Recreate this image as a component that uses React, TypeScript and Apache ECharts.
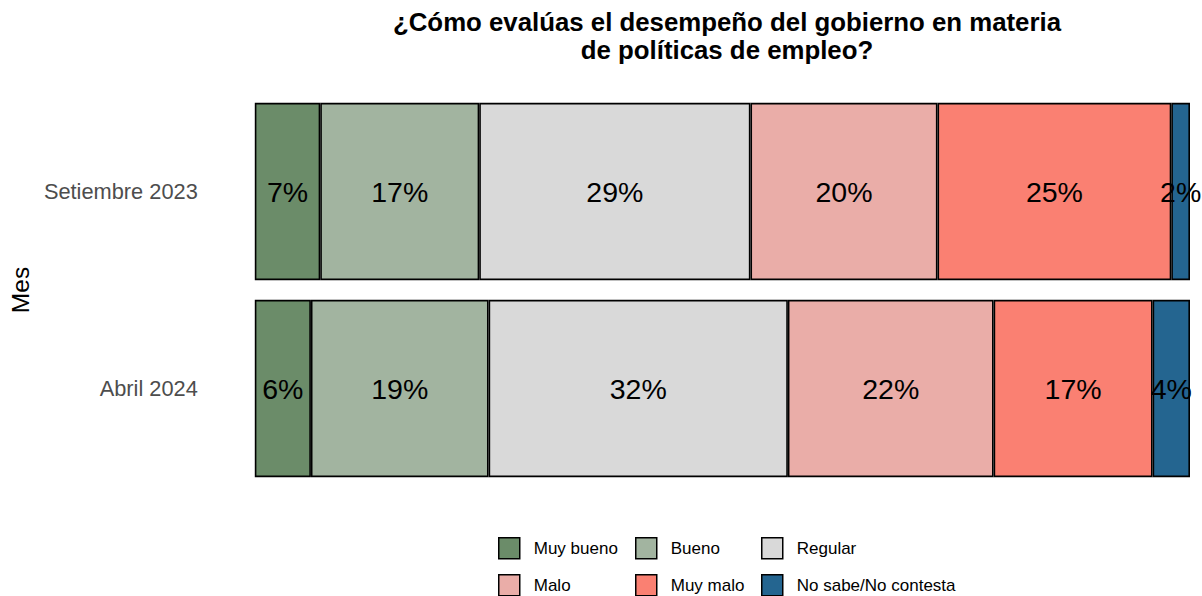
import React, { useEffect, useRef } from "react";
import * as echarts from "echarts";

const months = ["Setiembre 2023", "Abril 2024"];
const categories = ["Muy bueno", "Bueno", "Regular", "Malo", "Muy malo", "No sabe/No contesta"];
const muyBueno = [7, 6];
const bueno = [17, 19];
const regular = [29, 32];
const malo = [20, 22];
const muyMalo = [25, 17];
const noSabe = [2, 4];
const colors = ["#6B8C69", "#A2B4A0", "#D9D9D9", "#EAADA8", "#FA8072", "#246590"];

const seriesValues = [muyBueno, bueno, regular, malo, muyMalo, noSabe];

// legend placement (3 columns x 2 rows)
const legendCols = [498, 635, 761];
const legendRows = [537, 574];

export default function App() {
  const ref = useRef<HTMLDivElement>(null);
  useEffect(() => {
    document.body.style.margin = "0";
    const chart = echarts.init(ref.current!, null, { renderer: "svg" });
    const font = "Liberation Sans, Arial, sans-serif";
    const legends = categories.map((c, i) => ({
      data: [c],
      left: legendCols[i % 3],
      top: legendRows[Math.floor(i / 3)],
      padding: 0,
      itemWidth: 21,
      itemHeight: 21,
      icon: "rect",
      selectedMode: false,
      itemStyle: { borderColor: "#000", borderWidth: 1.5 },
      textStyle: { fontFamily: font, fontSize: 17, color: "#000", padding: [0, 0, 0, 9] },
    }));
    chart.setOption({
      animation: false,
      textStyle: { fontFamily: font },
      title: {
        text: "¿Cómo evalúas el desempeño del gobierno en materia\nde políticas de empleo?",
        left: 722,
        textAlign: "center",
        top: 3,
        textStyle: { fontFamily: font, fontSize: 25.8, fontWeight: "bold", color: "#000", lineHeight: 28 },
      },
      legend: legends,
      grid: { left: 253, right: 12, top: 93, height: 394 },
      xAxis: { type: "value", min: 0, max: 100, show: false },
      yAxis: {
        type: "category",
        data: months,
        inverse: true,
        axisLine: { show: false },
        axisTick: { show: false },
        axisLabel: { color: "#4D4D4D", fontSize: 21.8, margin: 57, fontFamily: font },
        name: "Mes",
        nameLocation: "middle",
        nameGap: 214,
        nameTextStyle: { fontSize: 24.5, color: "#000", fontFamily: font },
      },
      series: categories.map((c, i) => ({
        name: c,
        type: "bar",
        stack: "total",
        barWidth: "90%",
        data: seriesValues[i],
        itemStyle: { color: colors[i], borderColor: "#000", borderWidth: 1.6 },
        label: {
          show: true,
          position: "inside",
          formatter: "{c}%",
          color: "#000",
          fontSize: 28.5,
          fontFamily: font,
        },
      })),
    });
    return () => chart.dispose();
  }, []);
  return <div ref={ref} style={{ width: 1202, height: 596 }} />;
}
